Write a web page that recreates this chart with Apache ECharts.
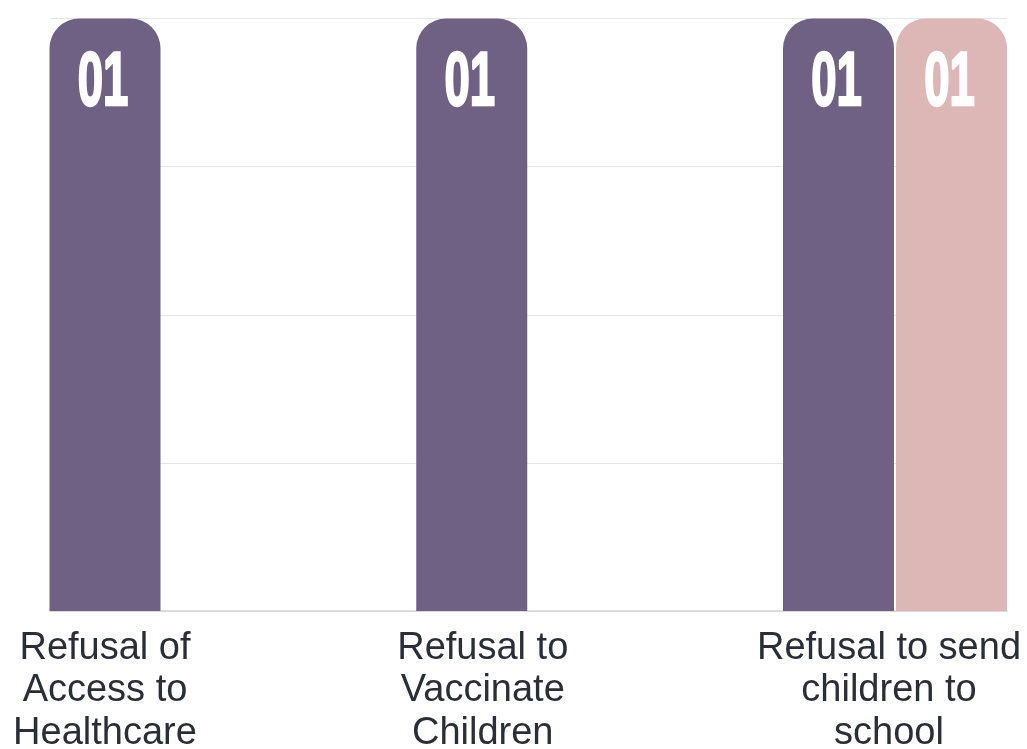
<!DOCTYPE html>
<html>
<head>
<meta charset="utf-8">
<script src="https://cdn.jsdelivr.net/npm/echarts@6/dist/echarts.min.js"></script>
<style>
html,body{margin:0;padding:0;background:#fff;}
#chart{width:1027px;height:749px;}
</style>
</head>
<body>
<div id="chart"></div>
<script>
const categories = ['Refusal of\nAccess to\nHealthcare', 'Refusal to\nVaccinate\nChildren', 'Refusal to send\nchildren to\nschool'];
const seriesA = [1, 1, 1];
const seriesB = [null, null, 1];
const yTicks = [0, 0.25, 0.5, 0.75, 1];

const labelPads = [113, 91, 12];
const BAR_W = 111;
const HALF_STEP = 56.5;

const chart = echarts.init(document.getElementById('chart'), null, {renderer: 'canvas'});

function numberLabels(values, offset) {
  return {
    type: 'custom', xAxisIndex: 1, yAxisIndex: 1, z: 5, clip: false, silent: true,
    data: values.map((v, i) => [i, v]),
    renderItem: (params, api) => {
      const v = api.value(1);
      if (v == null || isNaN(v)) return null;
      const p = api.coord([api.value(0), v]);
      return {
        type: 'text', x: p[0] + offset - 2, y: p[1] + 66, scaleX: 0.6,
        style: {
          text: String(v).padStart(2, '0'), fill: '#ffffff',
          stroke: '#ffffff', lineWidth: 2.5,
          font: 'bold 76px "Liberation Sans", Arial, sans-serif',
          align: 'center', verticalAlign: 'middle'
        }
      };
    }
  };
}

chart.setOption({
  backgroundColor: '#ffffff',
  animation: false,
  grid: [
    {left: 50, right: 20, top: 18.5, bottom: 138, outerBoundsMode: 'none', containLabel: false},
    {left: 161.5, right: 132, top: 18.5, bottom: 138, outerBoundsMode: 'none', containLabel: false}
  ],
  xAxis: [
    {
      gridIndex: 0, type: 'category', data: categories,
      axisLine: {show: true, lineStyle: {color: '#d6d6d6', width: 1.5}},
      axisTick: {show: false}, axisLabel: {show: false}, splitLine: {show: false}
    },
    {
      gridIndex: 1, type: 'category', boundaryGap: false,
      data: categories.map((c, i) => ({value: c, textStyle: {padding: [0, labelPads[i], 0, 0]}})),
      axisLine: {show: false}, axisTick: {show: false}, splitLine: {show: false},
      axisLabel: {
        show: true, interval: 0, margin: 16, hideOverlap: false,
        fontFamily: '"Liberation Sans", Arial, sans-serif', fontSize: 38, lineHeight: 42.5,
        color: '#2a2e36', align: 'center'
      }
    }
  ],
  yAxis: [
    {
      gridIndex: 0, type: 'value', min: yTicks[0], max: yTicks[yTicks.length - 1], interval: yTicks[1] - yTicks[0],
      axisLine: {show: false}, axisTick: {show: false}, axisLabel: {show: false},
      splitLine: {show: true, lineStyle: {color: '#e6e6e6', width: 1.2}}
    },
    {
      gridIndex: 1, type: 'value', min: yTicks[0], max: yTicks[yTicks.length - 1], interval: yTicks[1] - yTicks[0],
      show: false, splitLine: {show: false}
    }
  ],
  series: [
    {
      type: 'bar', xAxisIndex: 1, yAxisIndex: 1, data: seriesA,
      barWidth: BAR_W, barGap: '1.8%', clip: false,
      itemStyle: {color: '#6f6184', borderRadius: [30, 30, 0, 0]}
    },
    {
      type: 'bar', xAxisIndex: 1, yAxisIndex: 1, data: seriesB,
      barWidth: BAR_W, barGap: '1.8%', clip: false,
      itemStyle: {color: '#ddb6b6', borderRadius: [30, 30, 0, 0]}
    },
    numberLabels(seriesA, -HALF_STEP),
    numberLabels(seriesB, HALF_STEP)
  ]
});
</script>
</body>
</html>
